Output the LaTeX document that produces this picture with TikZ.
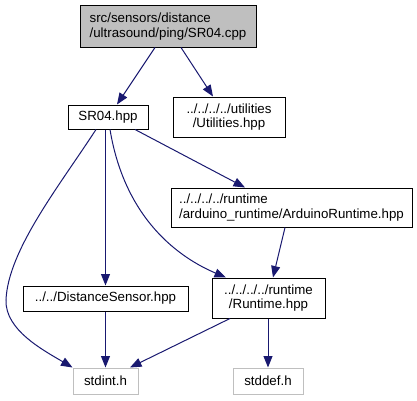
\documentclass[tikz,border=0pt]{standalone}
\usepackage{fontspec}
\setmainfont{Liberation Sans}
\usepackage{tikz}
\usetikzlibrary{arrows.meta}
\definecolor{edgeblue}{HTML}{191970}
\definecolor{boxgray}{HTML}{BFBFBF}
\newcommand{\dxfont}{\fontsize{13.3}{14.7}\selectfont}
\tikzset{
  file/.style     = {draw=black, fill=white, line width=1pt, align=center,
                     inner sep=0pt, font=\dxfont},
  mainfile/.style = {file, fill=boxgray},
  sysfile/.style  = {file, draw=boxgray},
  dep/.style      = {draw=edgeblue, line width=1pt,
                     -{Triangle[length=11.5pt, width=9pt]}},
}

\begin{document}
\begin{tikzpicture}[x=1pt, y=1pt]
  \useasboundingbox (0,0) rectangle (417,400);
  % files
  \node[mainfile, align=left, minimum width=176pt, minimum height=41pt] (src) at (168,373.5)
    {src/sensors/distance\\/ultrasound/ping/SR04.cpp};
  \node[file, minimum width=80pt, minimum height=24pt] (sr04) at (108,283) {SR04.hpp};
  \node[file, minimum width=112pt, minimum height=40pt] (util) at (229,283)
    {../../../../utilities\\/Utilities.hpp};
  \node[file, align=left, minimum width=241pt, minimum height=39pt] (ardu) at (291.5,192.5)
    {../../../../runtime\\/arduino\_runtime/ArduinoRuntime.hpp};
  \node[file, minimum width=165pt, minimum height=25pt] (dist) at (105.5,101.5)
    {../../DistanceSensor.hpp};
  \node[file, minimum width=113pt, minimum height=40pt] (rt) at (268.5,102)
    {../../../../runtime\\/Runtime.hpp};
  \node[sysfile, minimum width=65pt, minimum height=26pt] (stdint) at (105.5,19) {stdint.h};
  \node[sysfile, minimum width=70pt, minimum height=26pt] (stddef) at (268,19) {stddef.h};
  % includes
  \draw[dep] ([xshift=-13pt]src.south) -- ([xshift=9pt]sr04.north);
  \draw[dep] ([xshift=13pt]src.south) -- ([xshift=-16pt]util.north);
  \draw[dep] ([xshift=-12pt]sr04.south) .. controls (60,215) and (8,150) .. (6,100)
    .. controls (5,70) and (43,50) .. (stdint.north west);
  \draw[dep] ([xshift=-2.5pt]sr04.south) -- (dist.north);
  \draw[dep] ([xshift=2pt]sr04.south) .. controls (125,180) and (180,142)
    .. ([xshift=-42.5pt]rt.north);
  \draw[dep] ([xshift=27pt]sr04.south) -- ([xshift=-46.5pt]ardu.north);
  \draw[dep] ([xshift=-6.5pt]ardu.south) -- ([xshift=4.5pt]rt.north);
  \draw[dep] (dist.south) -- (stdint.north);
  \draw[dep] ([xshift=-38.5pt]rt.south) -- ([xshift=24.5pt]stdint.north);
  \draw[dep] ([xshift=-0.5pt]rt.south) -- (stddef.north);
\end{tikzpicture}
\end{document}
